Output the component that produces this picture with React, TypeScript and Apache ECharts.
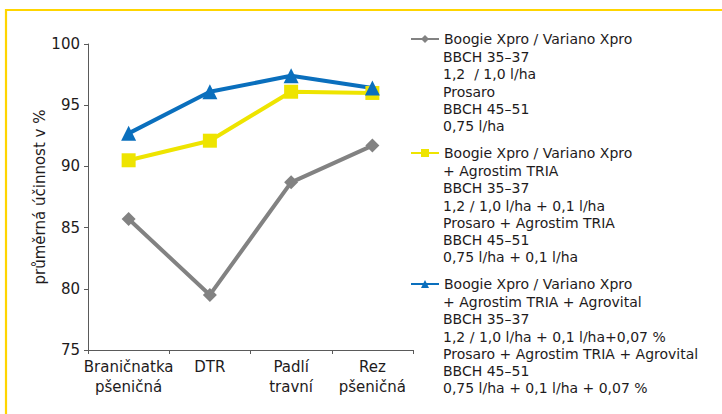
import React, { useEffect, useRef } from "react";
import * as echarts from "echarts";

const categories = ["Braničnatka\npšeničná", "DTR", "Padlí\ntravní", "Rez\npšeničná"];
const seriesGray = [85.7, 79.5, 88.7, 91.7];
const seriesYellow = [90.5, 92.1, 96.1, 96.0];
const seriesBlue = [92.7, 96.1, 97.4, 96.4];

const legendGray = [
  "Boogie Xpro / Variano Xpro",
  "BBCH 35–37",
  "1,2  / 1,0 l/ha",
  "Prosaro",
  "BBCH 45–51",
  "0,75 l/ha",
];
const legendYellow = [
  "Boogie Xpro / Variano Xpro",
  "+ Agrostim TRIA",
  "BBCH 35–37",
  "1,2 / 1,0 l/ha + 0,1 l/ha",
  "Prosaro + Agrostim TRIA",
  "BBCH 45–51",
  "0,75 l/ha + 0,1 l/ha",
];
const legendBlue = [
  "Boogie Xpro / Variano Xpro",
  "+ Agrostim TRIA + Agrovital",
  "BBCH 35–37",
  "1,2 / 1,0 l/ha + 0,1 l/ha+0,07 %",
  "Prosaro + Agrostim TRIA + Agrovital",
  "BBCH 45–51",
  "0,75 l/ha + 0,1 l/ha + 0,07 %",
];

const FONT = "'DejaVu Sans', sans-serif";
const FS = 14;
const AFS = 15;
const TEXT = "#1e1b1c";
const GRAY = "#828282";
const YELLOW = "#eee400";
const BLUE = "#0a6fbd";

export default function App() {
  const ref = useRef<HTMLDivElement>(null);
  useEffect(() => {
    if (!ref.current) return;
    const chart = echarts.init(ref.current, undefined, { renderer: "svg" });
    const groups = [
      { lines: legendGray, color: GRAY, symbol: "diamond", size: 14, data: seriesGray, top: 40 },
      { lines: legendYellow, color: YELLOW, symbol: "rect", size: 14, data: seriesYellow, top: 154 },
      { lines: legendBlue, color: BLUE, symbol: "triangle", size: 15, data: seriesBlue, top: 285 },
    ];
    const lineH = 17.2;
    const graphics: any[] = [
      {
        type: "rect",
        shape: { x: 6, y: 10, width: 800, height: 500 },
        style: { fill: "none", stroke: "#ffd500", lineWidth: 2.2 },
        silent: true,
      },
    ];
    groups.forEach((g) => {
      g.lines.slice(1).forEach((t, i) => {
        graphics.push({
          type: "text",
          x: 443,
          y: g.top + (i + 1) * lineH,
          style: {
            text: t,
            fill: TEXT,
            font: `${FS}px ${FONT}`,
            verticalAlign: "middle",
            align: "left",
          },
        });
      });
    });
    const option: any = {
      animation: false,
      grid: { left: 88, top: 44, right: 309, bottom: 64, containLabel: false },
      legend: groups.map((g) => ({
        left: 410,
        top: g.top - 8,
        padding: 0,
        itemWidth: 28,
        itemHeight: 10,
        data: [g.lines.join("\n")],
        formatter: (name: string) => name.split("\n")[0],
        textStyle: { fontSize: FS, color: TEXT, fontFamily: FONT },
        selectedMode: false,
      })),
      xAxis: {
        type: "category",
        data: categories,
        boundaryGap: true,
        axisLine: { lineStyle: { color: "#5a5a5a", width: 1 } },
        axisTick: { show: true, length: 4, lineStyle: { color: "#5a5a5a" } },
        axisLabel: {
          color: TEXT,
          fontSize: AFS,
          fontFamily: FONT,
          lineHeight: 20,
          margin: 7,
          interval: 0,
        },
      },
      yAxis: {
        type: "value",
        min: 75,
        max: 100,
        interval: 5,
        name: "průměrná účinnost v %",
        nameLocation: "middle",
        nameGap: 38,
        nameTextStyle: { color: TEXT, fontSize: AFS, fontFamily: FONT },
        splitLine: { show: false },
        axisLine: { show: true, lineStyle: { color: "#5a5a5a", width: 1 } },
        axisTick: { show: true, length: 4, lineStyle: { color: "#5a5a5a" } },
        axisLabel: { color: TEXT, fontSize: AFS, fontFamily: FONT, margin: 8 },
      },
      series: groups.map((g) => ({
        type: "line",
        name: g.lines.join("\n"),
        data: g.data,
        symbol: g.symbol,
        symbolSize: g.size,
        lineStyle: { color: g.color, width: 4 },
        itemStyle: { color: g.color },
        z: 2,
      })),
      graphic: graphics,
    };
    chart.setOption(option);
    return () => chart.dispose();
  }, []);
  return (
    <div
      ref={ref}
      style={{ position: "fixed", left: 0, top: 0, width: 722, height: 414, background: "#fff" }}
    />
  );
}
